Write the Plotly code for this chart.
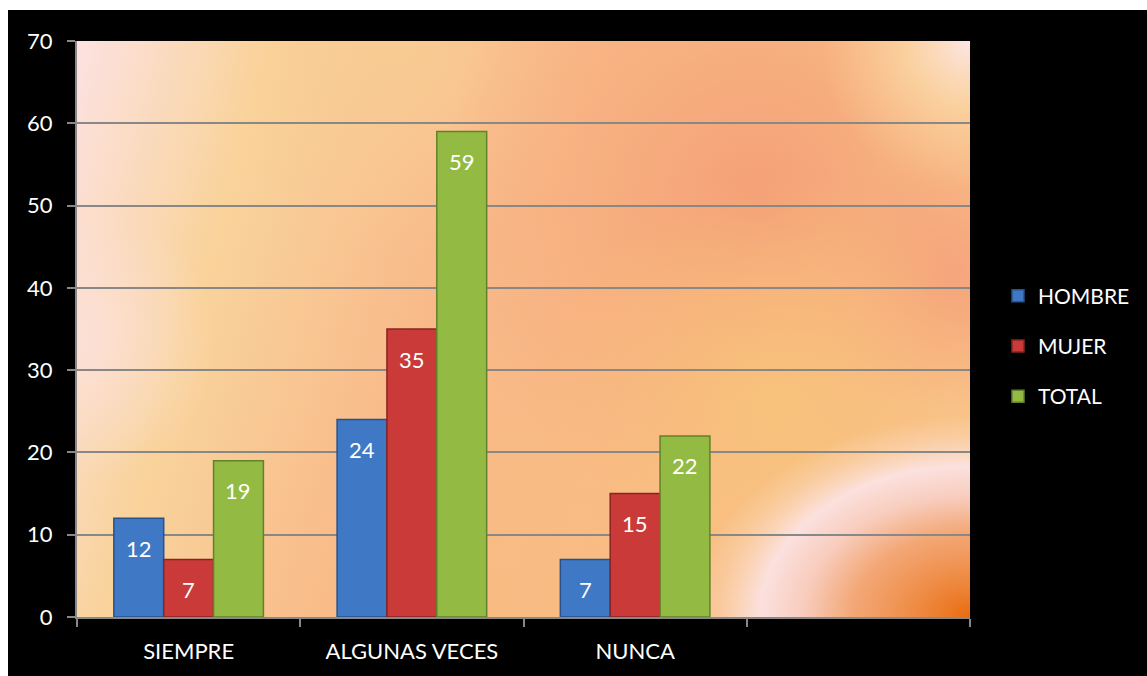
import base64
import plotly.graph_objects as go

# ---- data -------------------------------------------------------------
categories = ["SIEMPRE", "ALGUNAS VECES", "NUNCA", " "]
hombre = [12, 24, 7, None]
mujer = [7, 35, 15, None]
total = [19, 59, 22, None]

series_names = ["HOMBRE", "MUJER", "TOTAL"]
series_values = [hombre, mujer, total]
series_colors = ["#3f78c4", "#c93a39", "#93bb43"]
series_edges = ["#27528c", "#8a2424", "#63812a"]

y_ticks = [0, 10, 20, 30, 40, 50, 60, 70]

# ---- page geometry ------------------------------------------------------
W, H = 1147, 676
ML, MR, MT, MB = 77, 177, 41, 59
PW, PH = W - ML - MR, H - MT - MB
BARGAP = 0.33
FONT = "Lato, 'Open Sans', sans-serif"


def px_x(p):
    return (p - ML) / PW


def px_y(p):
    return (H - MB - p) / PH


# ---- warm painted backdrop for the plotting area ------------------------
bg_svg = f"""<svg xmlns='http://www.w3.org/2000/svg' width='{PW}' height='{PH}'
 viewBox='0 0 {PW} {PH}' preserveAspectRatio='none'>
<defs>
 <linearGradient id='base' gradientUnits='userSpaceOnUse' x1='0' y1='0' x2='{PW}' y2='260'>
  <stop offset='0' stop-color='#fce2e2'/>
  <stop offset='0.2' stop-color='#f9d39b'/>
  <stop offset='0.45' stop-color='#f8b989'/>
  <stop offset='0.75' stop-color='#f8bb84'/>
  <stop offset='1' stop-color='#f9c58c'/>
 </linearGradient>
 <radialGradient id='salmon' gradientUnits='userSpaceOnUse' cx='680' cy='160' r='320'>
  <stop offset='0' stop-color='#f49d76' stop-opacity='0.95'/>
  <stop offset='0.6' stop-color='#f6a77b' stop-opacity='0.45'/>
  <stop offset='1' stop-color='#f6a77b' stop-opacity='0'/>
 </radialGradient>
 <radialGradient id='salmon2' gradientUnits='userSpaceOnUse' cx='870' cy='240' r='130'>
  <stop offset='0' stop-color='#f5a07a' stop-opacity='0.9'/>
  <stop offset='1' stop-color='#f5a07a' stop-opacity='0'/>
 </radialGradient>
 <radialGradient id='topmid' gradientUnits='userSpaceOnUse' cx='330' cy='10' r='200'>
  <stop offset='0' stop-color='#f9cd94' stop-opacity='0.8'/>
  <stop offset='1' stop-color='#f9cd94' stop-opacity='0'/>
 </radialGradient>
 <radialGradient id='topright' gradientUnits='userSpaceOnUse' cx='{PW}' cy='0' r='150'>
  <stop offset='0' stop-color='#fde6e4' stop-opacity='1'/>
  <stop offset='0.45' stop-color='#fbd8a6' stop-opacity='0.75'/>
  <stop offset='1' stop-color='#f9cf98' stop-opacity='0'/>
 </radialGradient>
 <radialGradient id='midright' gradientUnits='userSpaceOnUse' cx='700' cy='360' r='230'>
  <stop offset='0' stop-color='#f8c47a' stop-opacity='0.85'/>
  <stop offset='1' stop-color='#f8c47a' stop-opacity='0'/>
 </radialGradient>
 <radialGradient id='bottom' gradientUnits='userSpaceOnUse' cx='420' cy='560' r='260'>
  <stop offset='0' stop-color='#f8bd80' stop-opacity='0.6'/>
  <stop offset='1' stop-color='#f8bd80' stop-opacity='0'/>
 </radialGradient>
 <radialGradient id='left' gradientUnits='userSpaceOnUse' cx='0' cy='300' r='140'>
  <stop offset='0' stop-color='#fce2dc' stop-opacity='0.8'/>
  <stop offset='1' stop-color='#fce2dc' stop-opacity='0'/>
 </radialGradient>
 <radialGradient id='ring' gradientUnits='userSpaceOnUse' cx='{PW}' cy='{PH}' r='280'
  gradientTransform='translate({PW} {PH}) scale(1 0.72) translate(-{PW} -{PH})'>
  <stop offset='0' stop-color='#e96c10' stop-opacity='1'/>
  <stop offset='0.2' stop-color='#ee8840' stop-opacity='0.95'/>
  <stop offset='0.42' stop-color='#f2a272' stop-opacity='0.85'/>
  <stop offset='0.6' stop-color='#f8cfc8' stop-opacity='0.85'/>
  <stop offset='0.75' stop-color='#fce4e8' stop-opacity='0.9'/>
  <stop offset='0.9' stop-color='#fbdcc8' stop-opacity='0.35'/>
  <stop offset='1' stop-color='#fbdcc8' stop-opacity='0'/>
 </radialGradient>
</defs>
<rect width='{PW}' height='{PH}' fill='url(#base)'/>
<rect width='{PW}' height='{PH}' fill='url(#topmid)'/>
<rect width='{PW}' height='{PH}' fill='url(#salmon)'/>
<rect width='{PW}' height='{PH}' fill='url(#salmon2)'/>
<rect width='{PW}' height='{PH}' fill='url(#midright)'/>
<rect width='{PW}' height='{PH}' fill='url(#bottom)'/>
<rect width='{PW}' height='{PH}' fill='url(#left)'/>
<rect width='{PW}' height='{PH}' fill='url(#topright)'/>
<rect width='{PW}' height='{PH}' fill='url(#ring)'/>
</svg>"""
bg_uri = "data:image/svg+xml;base64," + base64.b64encode(bg_svg.encode()).decode()

# ---- figure ---------------------------------------------------------------
fig = go.Figure()
n = len(series_names)
bar_w = (1 - BARGAP) / n
annotations = []
for k, (name, vals, col, edge) in enumerate(
        zip(series_names, series_values, series_colors, series_edges)):
    fig.add_trace(go.Bar(
        name=name, x=categories, y=vals, legendgroup=f"g{k}",
        marker=dict(color=col, line=dict(color=edge, width=1.5)),
        hoverinfo="x+y+name",
    ))
    # value labels sitting just inside the top of each bar
    offset = (k - (n - 1) / 2) * bar_w
    for i, v in enumerate(vals):
        if v is None:
            continue
        annotations.append(dict(
            x=i + offset, y=v, xref="x", yref="y", text=str(v),
            showarrow=False, yanchor="middle", yshift=-30,
            font=dict(family=FONT, size=22, color="white"),
        ))

axis_grey = "#888888"
fig.update_layout(
    width=W, height=H,
    margin=dict(l=ML, r=MR, t=MT, b=MB, pad=0),
    paper_bgcolor="black",
    plot_bgcolor="rgba(0,0,0,0)",
    barmode="group", bargap=BARGAP, bargroupgap=0,
    font=dict(family=FONT, size=22, color="white"),
    showlegend=True,
    legend=dict(
        x=px_x(998), y=px_y(346), xanchor="left", yanchor="middle",
        bgcolor="rgba(0,0,0,0)", font=dict(size=21, color="white"),
        traceorder="grouped", tracegroupgap=20, itemwidth=30,
    ),
    xaxis=dict(
        type="category", range=[-0.5, 3.5], categoryorder="array",
        categoryarray=categories, showgrid=False, zeroline=False,
        showline=True, linecolor=axis_grey, linewidth=2,
        ticks="outside", tickson="boundaries", ticklen=8,
        tickcolor=axis_grey, tickwidth=2, ticklabelstandoff=14,
        tickfont=dict(size=22, color="white"), fixedrange=True,
    ),
    yaxis=dict(
        range=[0, 70], tickvals=y_ticks, ticktext=[str(t) for t in y_ticks],
        showgrid=True, gridcolor=axis_grey, gridwidth=2, zeroline=False,
        showline=True, linecolor=axis_grey, linewidth=2,
        ticks="outside", ticklen=8, tickcolor=axis_grey, tickwidth=2,
        ticklabelstandoff=10, tickfont=dict(size=22, color="white"),
        fixedrange=True,
    ),
    images=[dict(
        source=bg_uri, xref="x", yref="y", x=-0.5, y=70,
        sizex=4, sizey=70, sizing="stretch", layer="below",
        xanchor="left", yanchor="top",
    )],
    annotations=annotations,
    shapes=[
        # thin white margin along the top and left edges of the page
        dict(type="rect", xref="paper", yref="paper", layer="above",
             x0=px_x(0), x1=px_x(W), y0=px_y(10), y1=px_y(0),
             fillcolor="white", line=dict(width=0)),
        dict(type="rect", xref="paper", yref="paper", layer="above",
             x0=px_x(0), x1=px_x(8), y0=px_y(H), y1=px_y(0),
             fillcolor="white", line=dict(width=0)),
    ],
)

fig.write_html("out.html")
